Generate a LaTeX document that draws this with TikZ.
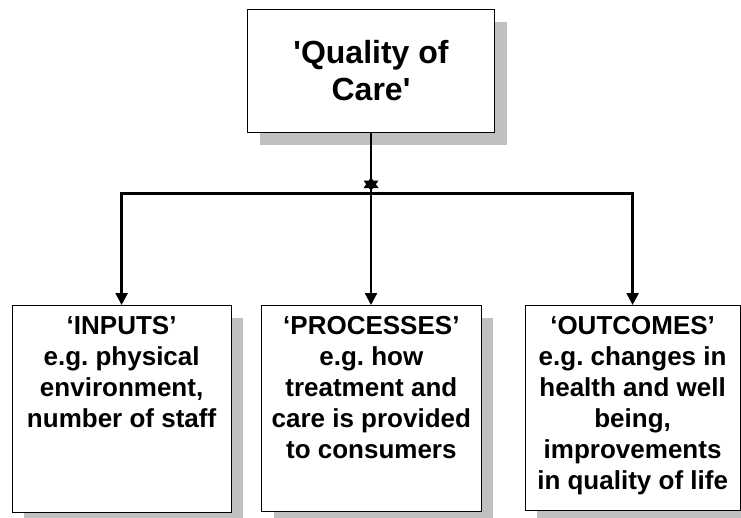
\documentclass[tikz,border=0pt]{standalone}
\usepackage{fontspec}
\setmainfont{Liberation Sans}[Ligatures=TeXOff]
\usetikzlibrary{arrows.meta,shadows}
\frenchspacing

\begin{document}
\begin{tikzpicture}[x=1pt,y=-1pt,
  box/.style={draw=black, line width=1.2pt, fill=white, inner sep=0pt,
    drop shadow={shadow xshift=12pt, shadow yshift=-12.5pt, fill=black!25, opacity=1}},
  link/.style={line width=2.4pt},
  feed/.style={link, -{Triangle[length=12pt,width=12pt]}}
]
\useasboundingbox (0,0) rectangle (741,517);

% top concept
\node[box, minimum width=247pt, minimum height=123pt, align=center,
      font=\bfseries\fontsize{32}{37}\selectfont] (q) at (371,71)
      {'Quality of\\Care'};

% three dimensions, text hung from the top edge
\newcommand{\lowtext}[3]{\parbox[c][#1][t]{#2}{\bfseries\fontsize{26}{31}\selectfont
   \centering\rule{0pt}{29pt}#3}}
\node[box, anchor=north west] (inp) at (11.5,305)
  {\lowtext{206.5pt}{219pt}{‘INPUTS’\\e.g. physical\\environment,\\number of staff}};
\node[box, anchor=north west] (proc) at (261,305)
  {\lowtext{206pt}{219.5pt}{‘PROCESSES’\\e.g. how\\treatment and\\care is provided\\to consumers}};
\node[box, anchor=north west] (out) at (524.5,305)
  {\lowtext{205pt}{215pt}{‘OUTCOMES’\\e.g. changes in\\health and well\\being,\\improvements\\in quality of life}};

% branching connectors
\coordinate (j) at (q.south |- 0,193.5);
\draw[feed] (q.south) -- (q.south |- proc.north);
\draw[feed] (j) -| (inp.north);
\draw[feed] (j) -| (out.north);

% junction mark
\fill ([shift={(-7.5,-13)}]j) -- ([shift={(7.5,-13)}]j) -- ([shift={(0,-2.5)}]j) -- cycle;
\fill ([shift={(-7.5,-5.5)}]j) -- ([shift={(7.5,-5.5)}]j) -- ([shift={(0,-16)}]j) -- cycle;
\end{tikzpicture}
\end{document}
